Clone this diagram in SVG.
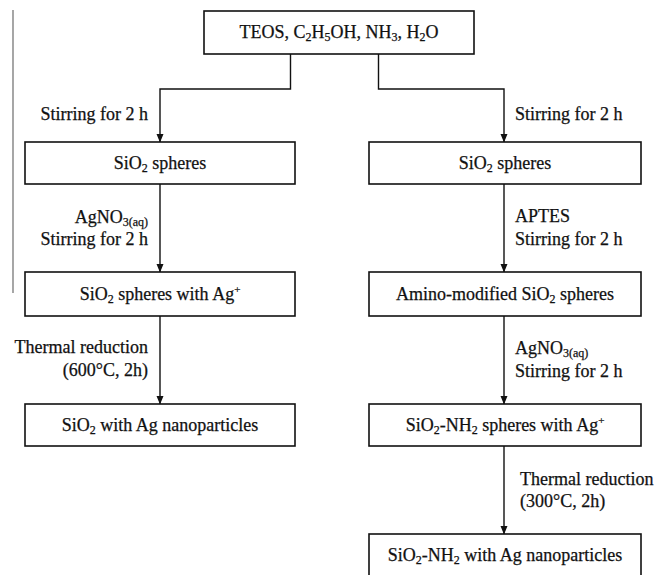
<svg xmlns="http://www.w3.org/2000/svg" width="658" height="575" viewBox="0 0 658 575">
<style>
  text { font-family: "Liberation Serif", "Times New Roman", serif; font-size: 18px; fill: #111; stroke: #111; stroke-width: 0.25; }
  .c { text-anchor: middle; }
  .e { text-anchor: end; }
  .box { fill: #fff; stroke: #111; stroke-width: 1.6; }
  .conn { fill: none; stroke: #111; stroke-width: 1.4; }
  .sub { font-size: 12px; }
  .sup { font-size: 11px; }
</style>
<defs>
  <marker id="ah" markerUnits="userSpaceOnUse" markerWidth="8" markerHeight="10" refX="4" refY="9" orient="0" viewBox="0 0 8 10">
    <path d="M0.5,1 L7.5,1 L4,9.5 Z" fill="#111"/>
  </marker>
</defs>

<rect width="658" height="575" fill="#fff"/>
<line x1="13" y1="10" x2="13" y2="293" stroke="#777" stroke-width="1.3"/>

<g id="connectors">
  <path class="conn" d="M290.5,54 V89 H160 V142" marker-end="url(#ah)"/>
  <path class="conn" d="M378.5,54 V89 H504 V142" marker-end="url(#ah)"/>
  <path class="conn" d="M160,184 V272" marker-end="url(#ah)"/>
  <path class="conn" d="M160,316 V404" marker-end="url(#ah)"/>
  <path class="conn" d="M504,184 V272" marker-end="url(#ah)"/>
  <path class="conn" d="M504,316 V404" marker-end="url(#ah)"/>
  <path class="conn" d="M504,446 V534" marker-end="url(#ah)"/>
</g>

<g id="labels">
  <text class="e" x="148" y="120">Stirring for 2 h</text>
  <text class="e" x="148" y="223">AgNO<tspan class="sub" dy="3">3(aq)</tspan></text>
  <text class="e" x="148" y="245">Stirring for 2 h</text>
  <text class="e" x="148" y="353">Thermal reduction</text>
  <text class="e" x="148" y="376">(600°C, 2h)</text>
  <text x="515" y="120">Stirring for 2 h</text>
  <text x="515" y="222">APTES</text>
  <text x="515" y="245">Stirring for 2 h</text>
  <text x="515" y="354">AgNO<tspan class="sub" dy="3">3(aq)</tspan></text>
  <text x="515" y="377">Stirring for 2 h</text>
  <text x="520" y="485">Thermal reduction</text>
  <text x="520" y="507">(300°C, 2h)</text>
</g>

<g id="n_start">
  <rect class="box" x="204" y="11" width="270" height="43"/>
  <text class="c" x="339" y="38">TEOS, C<tspan class="sub" dy="3">2</tspan><tspan dy="-3">H</tspan><tspan class="sub" dy="3">5</tspan><tspan dy="-3">OH, NH</tspan><tspan class="sub" dy="3">3</tspan><tspan dy="-3">, H</tspan><tspan class="sub" dy="3">2</tspan><tspan dy="-3">O</tspan></text>
</g>

<g id="n_left1">
  <rect class="box" x="25" y="142" width="270" height="42"/>
  <text class="c" x="160" y="169">SiO<tspan class="sub" dy="3">2</tspan><tspan dy="-3"> spheres</tspan></text>
</g>
<g id="n_left2">
  <rect class="box" x="25" y="272" width="270" height="44"/>
  <text class="c" x="160" y="300">SiO<tspan class="sub" dy="3">2</tspan><tspan dy="-3"> spheres with Ag</tspan><tspan class="sup" dy="-7">+</tspan></text>
</g>
<g id="n_left3">
  <rect class="box" x="25" y="404" width="270" height="42"/>
  <text class="c" x="160" y="431">SiO<tspan class="sub" dy="3">2</tspan><tspan dy="-3"> with Ag nanoparticles</tspan></text>
</g>

<g id="n_right1">
  <rect class="box" x="369" y="142" width="272" height="42"/>
  <text class="c" x="505" y="169">SiO<tspan class="sub" dy="3">2</tspan><tspan dy="-3"> spheres</tspan></text>
</g>
<g id="n_right2">
  <rect class="box" x="369" y="272" width="272" height="44"/>
  <text class="c" x="505" y="300">Amino-modified SiO<tspan class="sub" dy="3">2</tspan><tspan dy="-3"> spheres</tspan></text>
</g>
<g id="n_right3">
  <rect class="box" x="369" y="404" width="272" height="42"/>
  <text class="c" x="505" y="431">SiO<tspan class="sub" dy="3">2</tspan><tspan dy="-3">-NH</tspan><tspan class="sub" dy="3">2</tspan><tspan dy="-3"> spheres with Ag</tspan><tspan class="sup" dy="-7">+</tspan></text>
</g>
<g id="n_right4">
  <rect class="box" x="369" y="534" width="272" height="50"/>
  <text class="c" x="505" y="561">SiO<tspan class="sub" dy="3">2</tspan><tspan dy="-3">-NH</tspan><tspan class="sub" dy="3">2</tspan><tspan dy="-3"> with Ag nanoparticles</tspan></text>
</g>
</svg>
